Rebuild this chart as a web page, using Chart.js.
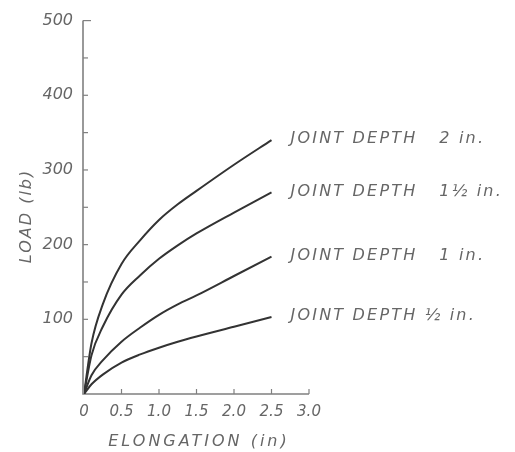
<!DOCTYPE html>
<html>
<head>
<meta charset="utf-8">
<script src="https://cdn.jsdelivr.net/npm/chart.js@4/dist/chart.umd.min.js"></script>
<style>
  html, body { margin: 0; padding: 0; background: #fff; }
  #wrap { width: 515px; height: 452px; position: relative; }
</style>
</head>
<body>
<div id="wrap"><canvas id="chart"></canvas></div>
<script>
// Elongation (in) at which each load was read
const elongation = [0, 0.1, 0.25, 0.5, 0.75, 1.0, 1.25, 1.5, 2.0, 2.5];

// Load (lb) for each joint depth
const load2in    = [0, 68, 120, 174, 206, 233, 254, 272, 307, 340];
const load1_5in  = [0, 52, 90, 133, 159, 181, 199, 215, 243, 270];
const load1in    = [0, 25, 45, 70, 89, 106, 120, 132, 158, 184];
const loadHalfIn = [0, 13, 26, 42, 53, 62, 70, 77, 90, 103];

const seriesNames = [
  'JOINT DEPTH   2 in.',
  'JOINT DEPTH   1\u00BD in.',
  'JOINT DEPTH   1 in.',
  'JOINT DEPTH \u00BD in.'
];

const xTickValues = [0, 0.5, 1.0, 1.5, 2.0, 2.5, 3.0];
const xTickLabels = ['0', '0.5', '1.0', '1.5', '2.0', '2.5', '3.0'];
const yTickValues = [0, 100, 200, 300, 400, 500];
const yTickLabels = ['', '100', '200', '300', '400', '500'];

const FONT = "'DejaVu Sans', sans-serif";
const INK = '#333333';
const PENCIL = '#666666';

function toPoints(ys) {
  return elongation.map((x, i) => ({ x: x, y: ys[i] }));
}

const seriesLoads = [load2in, load1_5in, load1in, loadHalfIn];

// Hand-drawn style axes with inward ticks, curve labels and axis titles
const draftingPlugin = {
  id: 'drafting',
  beforeDatasetsDraw(chart) {
    const { ctx, scales: { x, y } } = chart;
    const x0 = x.getPixelForValue(0) - 1;
    const y0 = y.getPixelForValue(0);
    ctx.save();
    ctx.strokeStyle = '#808080';
    ctx.lineWidth = 1.6;
    ctx.beginPath();
    ctx.moveTo(x0, y.getPixelForValue(500));
    ctx.lineTo(x0, y0);
    ctx.lineTo(x.getPixelForValue(3.0), y0);
    ctx.stroke();
    // y ticks every 50 lb, pointing into the plot
    ctx.lineWidth = 1.2;
    for (let v = 50; v <= 500; v += 50) {
      const py = y.getPixelForValue(v);
      const len = v === 500 ? 8 : 5;
      ctx.beginPath();
      ctx.moveTo(x0, py);
      ctx.lineTo(x0 + len, py);
      ctx.stroke();
    }
    // x ticks every 0.5 in, pointing up
    for (let v = 0.5; v <= 3.0001; v += 0.5) {
      const px = x.getPixelForValue(v);
      ctx.beginPath();
      ctx.moveTo(px, y0);
      ctx.lineTo(px, y0 - 5);
      ctx.stroke();
    }
    ctx.restore();
  },
  afterDraw(chart) {
    const { ctx, scales: { x, y } } = chart;
    ctx.save();
    ctx.fillStyle = PENCIL;
    ctx.textBaseline = 'middle';
    ctx.textAlign = 'left';
    ctx.font = 'italic 16px ' + FONT;
    ctx.letterSpacing = '2.2px';
    seriesLoads.forEach((ys, i) => {
      const n = ys.length - 1;
      const px = x.getPixelForValue(elongation[n]) + 19;
      const py = y.getPixelForValue(ys[n]) - 1;
      ctx.fillText(seriesNames[i], px, py);
    });
    // axis titles
    ctx.letterSpacing = '3px';
    ctx.textAlign = 'center';
    ctx.fillText('ELONGATION (in)', 199, 442);
    ctx.letterSpacing = '2px';
    ctx.translate(27, 216);
    ctx.rotate(-Math.PI / 2);
    ctx.fillText('LOAD (lb)', 0, 0);
    ctx.restore();
  }
};

const lineStyle = {
  borderColor: INK,
  borderWidth: 2,
  pointRadius: 0,
  fill: false,
  cubicInterpolationMode: 'monotone'
};

new Chart(document.getElementById('chart'), {
  type: 'line',
  data: {
    datasets: seriesLoads.map((ys, i) => Object.assign({ label: seriesNames[i], data: toPoints(ys) }, lineStyle))
  },
  options: {
    responsive: true,
    maintainAspectRatio: false,
    animation: false,
    layout: { padding: { top: 16, right: 206, left: 0, bottom: 0 } },
    plugins: { legend: { display: false }, tooltip: { enabled: false } },
    scales: {
      x: {
        type: 'linear',
        min: 0,
        max: 3.0,
        grid: { display: false, drawTicks: false },
        border: { display: false },
        afterBuildTicks(scale) { scale.ticks = xTickValues.map(v => ({ value: v })); },
        afterFit(scale) { scale.height = 58; },
        ticks: {
          padding: 9,
          color: PENCIL,
          font: { family: FONT, size: 15, style: 'italic' },
          maxRotation: 0,
          callback: (v) => xTickLabels[xTickValues.indexOf(v)]
        }
      },
      y: {
        type: 'linear',
        min: 0,
        max: 500,
        grid: { display: false, drawTicks: false },
        border: { display: false },
        afterBuildTicks(scale) { scale.ticks = yTickValues.map(v => ({ value: v })); },
        afterFit(scale) { scale.width = 84; },
        ticks: {
          padding: 11,
          color: PENCIL,
          font: { family: FONT, size: 16, style: 'italic' },
          callback: (v) => yTickLabels[yTickValues.indexOf(v)]
        }
      }
    }
  },
  plugins: [draftingPlugin]
});
</script>
</body>
</html>
